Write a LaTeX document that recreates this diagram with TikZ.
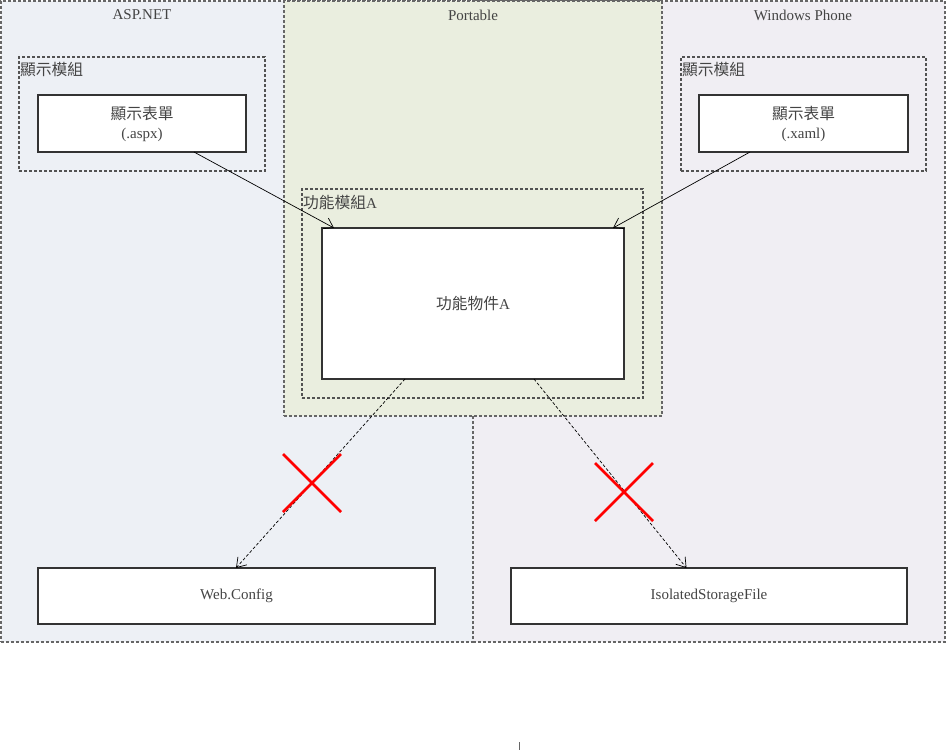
\documentclass[tikz,border=0pt]{standalone}
\usepackage{fontspec}
\setmainfont{Liberation Serif}
\newfontfamily\cjk{Noto Sans CJK TC}[Scale=1.05]
\usetikzlibrary{arrows.meta}
\definecolor{aspfill}{HTML}{EDF0F5}
\definecolor{wpfill}{HTML}{F0EEF3}
\definecolor{portfill}{HTML}{EAEEDF}
\definecolor{txt}{HTML}{444444}
\definecolor{edge}{HTML}{333333}
\definecolor{dashc}{HTML}{666666}
\tikzset{
  panel/.style={draw=dashc, dash pattern=on 3pt off 2pt, line width=1.1pt, inner sep=0pt, outer sep=0pt},
  group/.style={draw=edge!85, dash pattern=on 3pt off 2pt, line width=1.1pt, inner sep=0pt, outer sep=0pt},
  box/.style={draw=edge, fill=white, line width=1.2pt, inner sep=0pt, outer sep=0pt, text=txt, align=center},
  lbl/.style={text=txt, inner sep=0pt},
  link/.style={draw=black, line width=0.7pt, -{Straight Barb[length=9pt,width=12pt]}},
  dlink/.style={link, dash pattern=on 3pt off 2pt},
  cross/.style={draw=red, line width=2.6pt},
}
\begin{document}
\begin{tikzpicture}[x=1pt,y=-1pt, font=\fontsize{15}{19}\selectfont]
\useasboundingbox (0,0) rectangle (946,750);
\fill[white] (0,0) rectangle (946,750);
% panels
\node[panel, fill=aspfill, minimum width=472pt, minimum height=641pt, anchor=north west] (asp) at (1,1) {};
\node[panel, fill=wpfill, minimum width=472pt, minimum height=641pt, anchor=north west] (wp) at (473,1) {};
\node[panel, fill=portfill, minimum width=378pt, minimum height=415pt, anchor=north west] (port) at (284,1) {};
\node[lbl] (asplbl) at (142,15) {ASP.NET};
\node[lbl] (portlbl) at (473,15) {Portable};
\node[lbl] (wplbl) at (803,15) {Windows Phone};
% display modules
\node[group, minimum width=246pt, minimum height=114pt, anchor=north west] (dmL) at (19,57) {};
\node[lbl, anchor=west] (dmLl) at (20,70) {\cjk 顯示模組};
\node[box, minimum width=208pt, minimum height=57pt, anchor=north west] (formL) at (38,95) {{\cjk 顯示表單}\\(.aspx)};
\node[group, minimum width=245pt, minimum height=114pt, anchor=north west] (dmR) at (681,57) {};
\node[lbl, anchor=west] (dmRl) at (682,70) {\cjk 顯示模組};
\node[box, minimum width=209pt, minimum height=57pt, anchor=north west] (formR) at (699,95) {{\cjk 顯示表單}\\(.xaml)};
% function module
\node[group, minimum width=341pt, minimum height=209pt, anchor=north west] (fm) at (302,189) {};
\node[lbl, anchor=west] (fml) at (303,203) {{\cjk 功能模組}A};
\node[box, minimum width=302pt, minimum height=151pt, anchor=north west] (fo) at (322,228) {{\cjk 功能物件}A};
% platform boxes
\node[box, minimum width=397pt, minimum height=56pt, anchor=north west] (web) at (38,568) {Web.Config};
\node[box, minimum width=396pt, minimum height=56pt, anchor=north west] (iso) at (511,568) {IsolatedStorageFile};
% connectors
\coordinate (fo1) at ([xshift=-139pt]fo.north);
\coordinate (fo2) at ([xshift=140pt]fo.north);
\draw[link] ([xshift=52pt]formL.south) -- (fo1);
\draw[link] ([xshift=-53.5pt]formR.south) -- (fo2);
\draw[dlink] ([xshift=-68pt]fo.south) -- ([xshift=-0.5pt]web.north);
\draw[dlink] ([xshift=61pt]fo.south) -- ([xshift=-22.5pt]iso.north);
% crosses
\coordinate (xL) at (312,483);
\coordinate (xR) at (624,492);
\draw[cross] ([shift={(-29,-29)}]xL) -- ([shift={(29,29)}]xL);
\draw[cross] ([shift={(-29,29)}]xL) -- ([shift={(29,-29)}]xL);
\draw[cross] ([shift={(-29,-29)}]xR) -- ([shift={(29,29)}]xR);
\draw[cross] ([shift={(-29,29)}]xR) -- ([shift={(29,-29)}]xR);
% small mark
\coordinate (m1) at (519,742);
\coordinate (m2) at (519,750);
\draw[dashc, line width=0.8pt] (m1) -- (m2);
\end{tikzpicture}
\end{document}
